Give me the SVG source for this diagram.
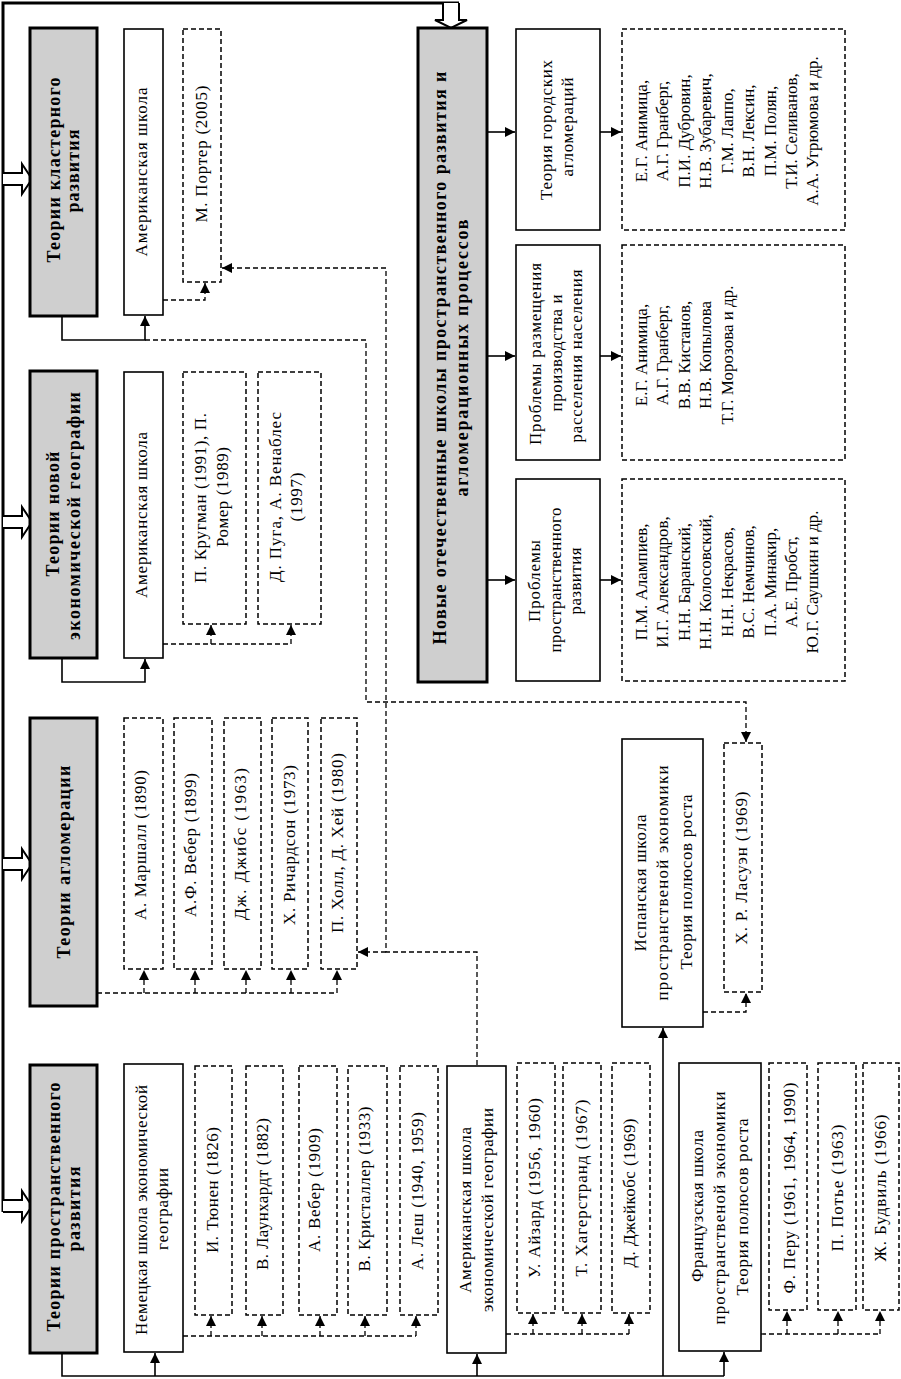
<svg xmlns="http://www.w3.org/2000/svg" width="901" height="1379" viewBox="0 0 901 1379">
<style>
.gray{fill:#cfcfcf;stroke:#000;stroke-width:3}
.box{fill:#fff;stroke:#000;stroke-width:1.6}
.dbox{fill:#fff;stroke:#000;stroke-width:1.5;stroke-dasharray:5 3}
.ln{fill:none;stroke:#000;stroke-width:1.6}
.dl{fill:none;stroke:#000;stroke-width:1.3;stroke-dasharray:5 3}
.frame{fill:none;stroke:#000;stroke-width:3}
.harrow{fill:#fff;stroke:#000;stroke-width:2}
.t{font-family:"Liberation Serif","Times New Roman",serif;font-size:17px;text-anchor:middle;fill:#000}
.tb{font-family:"Liberation Serif","Times New Roman",serif;font-size:18px;font-weight:bold;text-anchor:middle;fill:#000}
</style>
<defs>
<marker id="ah" markerUnits="userSpaceOnUse" markerWidth="10" markerHeight="10" refX="10" refY="5" orient="auto">
<path d="M0,0 L10,5 L0,10 z" fill="#000"/>
</marker>
</defs>

<g id="frame">
<path class="frame" d="M3,1212 V3 H459"/>
<path class="harrow" d="M3,173 H22 V164 L32,179 L22,194 V185 H3"/>
<path class="harrow" d="M3,516 H22 V507 L32,522 L22,537 V528 H3"/>
<path class="harrow" d="M3,858 H22 V849 L32,864 L22,879 V870 H3"/>
<path class="harrow" d="M3,1200 H22 V1191 L32,1206 L22,1221 V1212 H3"/>
<path class="harrow" d="M443,3 V20 H435 L451,28 L467,20 H459 V3"/>
</g>

<g id="connectors">
<path class="ln" d="M62,316 V340 H145 V316" marker-end="url(#ah)"/>
<path class="ln" d="M62,658 V682 H145 V659" marker-end="url(#ah)"/>
<path class="ln" d="M62,1353 V1376 H724"/>
<path class="ln" d="M155,1376 V1353" marker-end="url(#ah)"/>
<path class="ln" d="M477,1376 V1354" marker-end="url(#ah)"/>
<path class="ln" d="M724,1376 V1352" marker-end="url(#ah)"/>
<path class="ln" d="M663,1376 V1028" marker-end="url(#ah)"/>
<path class="ln" d="M487,132 H515" marker-end="url(#ah)"/>
<path class="ln" d="M600,132 H621" marker-end="url(#ah)"/>
<path class="ln" d="M487,356 H515" marker-end="url(#ah)"/>
<path class="ln" d="M600,356 H621" marker-end="url(#ah)"/>
<path class="ln" d="M487,580 H515" marker-end="url(#ah)"/>
<path class="ln" d="M600,580 H621" marker-end="url(#ah)"/>

<path class="dl" d="M145,340 H366 V702 H746 V742" marker-end="url(#ah)"/>
<path class="dl" d="M163,300 H205 V283" marker-end="url(#ah)"/>
<path class="dl" d="M163,644 H291"/>
<path class="dl" d="M211,644 V625" marker-end="url(#ah)"/>
<path class="dl" d="M291,644 V625" marker-end="url(#ah)"/>
<path class="dl" d="M97,993 H337"/>
<path class="dl" d="M144,993 V970" marker-end="url(#ah)"/>
<path class="dl" d="M195,993 V970" marker-end="url(#ah)"/>
<path class="dl" d="M246,993 V970" marker-end="url(#ah)"/>
<path class="dl" d="M291,993 V970" marker-end="url(#ah)"/>
<path class="dl" d="M337,993 V970" marker-end="url(#ah)"/>
<path class="dl" d="M477,1065 V952 H386 V268 H222" marker-end="url(#ah)"/>
<path class="dl" d="M386,952 H358" marker-end="url(#ah)"/>
<path class="dl" d="M183,1336 H416"/>
<path class="dl" d="M211,1336 V1316" marker-end="url(#ah)"/>
<path class="dl" d="M262,1336 V1316" marker-end="url(#ah)"/>
<path class="dl" d="M320,1336 V1316" marker-end="url(#ah)"/>
<path class="dl" d="M365,1336 V1316" marker-end="url(#ah)"/>
<path class="dl" d="M416,1336 V1316" marker-end="url(#ah)"/>
<path class="dl" d="M506,1334 H629"/>
<path class="dl" d="M533,1334 V1314" marker-end="url(#ah)"/>
<path class="dl" d="M582,1334 V1314" marker-end="url(#ah)"/>
<path class="dl" d="M629,1334 V1314" marker-end="url(#ah)"/>
<path class="dl" d="M761,1334 H880"/>
<path class="dl" d="M787,1334 V1311" marker-end="url(#ah)"/>
<path class="dl" d="M838,1334 V1311" marker-end="url(#ah)"/>
<path class="dl" d="M880,1334 V1311" marker-end="url(#ah)"/>
<path class="dl" d="M703,1012 H746 V993" marker-end="url(#ah)"/>
</g>

<!-- Cluster -->
<g id="n-cluster">
<rect class="gray" x="30" y="28" width="67" height="288"/>
<text class="tb" transform="translate(60,170) rotate(-90)" textLength="185">Теории кластерного</text>
<text class="tb" transform="translate(79,171) rotate(-90)" textLength="83">развития</text>
</g>
<g id="n-cluster-am">
<rect class="box" x="124" y="29" width="39" height="286"/>
<text class="t" transform="translate(147,172) rotate(-90)" textLength="169">Американская школа</text>
</g>
<g id="n-porter">
<rect class="dbox" x="183" y="29" width="38" height="253"/>
<text class="t" transform="translate(207,154) rotate(-90)" textLength="137">М. Портер (2005)</text>
</g>

<!-- NEG -->
<g id="n-neg">
<rect class="gray" x="30" y="371" width="67" height="287"/>
<text class="tb" transform="translate(59,514) rotate(-90)" textLength="125">Теории новой</text>
<text class="tb" transform="translate(80,516) rotate(-90)" textLength="248">экономической географии</text>
</g>
<g id="n-neg-am">
<rect class="box" x="124" y="372" width="39" height="286"/>
<text class="t" transform="translate(147,515) rotate(-90)" textLength="166">Американская школа</text>
</g>
<g id="n-krugman">
<rect class="dbox" x="183" y="372" width="63" height="252"/>
<text class="t" transform="translate(206,498) rotate(-90)" textLength="170">П. Кругман (1991), П.</text>
<text class="t" transform="translate(228,497) rotate(-90)" textLength="100">Ромер (1989)</text>
</g>
<g id="n-puga">
<rect class="dbox" x="258" y="372" width="63" height="252"/>
<text class="t" transform="translate(281,497) rotate(-90)" textLength="170">Д. Пуга, А. Венаблес</text>
<text class="t" transform="translate(302,497) rotate(-90)" textLength="49">(1997)</text>
</g>

<!-- Agglomeration -->
<g id="n-aggl">
<rect class="gray" x="30" y="718" width="67" height="288"/>
<text class="tb" transform="translate(70,862) rotate(-90)" textLength="193">Теории агломерации</text>
</g>
<g id="n-marshall">
<rect class="dbox" x="124" y="718" width="39" height="251"/>
<text class="t" transform="translate(146,845) rotate(-90)" textLength="150">А. Маршалл (1890)</text>
</g>
<g id="n-weber1">
<rect class="dbox" x="174" y="718" width="38" height="251"/>
<text class="t" transform="translate(196,845) rotate(-90)" textLength="144">А.Ф. Вебер (1899)</text>
</g>
<g id="n-jibs">
<rect class="dbox" x="224" y="718" width="37" height="251"/>
<text class="t" transform="translate(246,844) rotate(-90)" textLength="152">Дж. Джибс (1963)</text>
</g>
<g id="n-richardson">
<rect class="dbox" x="272" y="718" width="36" height="251"/>
<text class="t" transform="translate(295,845) rotate(-90)" textLength="160">Х. Ричардсон (1973)</text>
</g>
<g id="n-hall">
<rect class="dbox" x="321" y="718" width="36" height="251"/>
<text class="t" transform="translate(343,843) rotate(-90)" textLength="180">П. Холл, Д. Хей (1980)</text>
</g>

<!-- Spatial -->
<g id="n-spatial">
<rect class="gray" x="30" y="1065" width="67" height="288"/>
<text class="tb" transform="translate(60,1207) rotate(-90)" textLength="249">Теории пространственного</text>
<text class="tb" transform="translate(80,1209) rotate(-90)" textLength="85">развития</text>
</g>
<g id="n-german">
<rect class="box" x="124" y="1064" width="59" height="288"/>
<text class="t" transform="translate(147,1210) rotate(-90)" textLength="250">Немецкая школа экономической</text>
<text class="t" transform="translate(168,1209) rotate(-90)" textLength="82">географии</text>
</g>
<g id="n-thunen">
<rect class="dbox" x="195" y="1066" width="37" height="249"/>
<text class="t" transform="translate(218,1190) rotate(-90)" textLength="126">И. Тюнен (1826)</text>
</g>
<g id="n-launhardt">
<rect class="dbox" x="246" y="1066" width="37" height="249"/>
<text class="t" transform="translate(268,1194) rotate(-90)" textLength="152">В. Лаунхардт (1882)</text>
</g>
<g id="n-weber2">
<rect class="dbox" x="299" y="1066" width="38" height="249"/>
<text class="t" transform="translate(320,1190) rotate(-90)" textLength="124">А. Вебер (1909)</text>
</g>
<g id="n-christaller">
<rect class="dbox" x="348" y="1066" width="39" height="249"/>
<text class="t" transform="translate(370,1189) rotate(-90)" textLength="165">В. Кристаллер (1933)</text>
</g>
<g id="n-losch">
<rect class="dbox" x="400" y="1066" width="38" height="249"/>
<text class="t" transform="translate(423,1191) rotate(-90)" textLength="158">А. Леш (1940, 1959)</text>
</g>
<g id="n-american">
<rect class="box" x="447" y="1066" width="59" height="287"/>
<text class="t" transform="translate(471,1210) rotate(-90)" textLength="166">Американская школа</text>
<text class="t" transform="translate(493,1210) rotate(-90)" textLength="204">экономической географии</text>
</g>
<g id="n-isard">
<rect class="dbox" x="517" y="1063" width="38" height="250"/>
<text class="t" transform="translate(540,1188) rotate(-90)" textLength="180">У. Айзард (1956, 1960)</text>
</g>
<g id="n-hagerstrand">
<rect class="dbox" x="563" y="1063" width="38" height="250"/>
<text class="t" transform="translate(587,1188) rotate(-90)" textLength="177">Т. Хагерстранд (1967)</text>
</g>
<g id="n-jacobs">
<rect class="dbox" x="612" y="1063" width="38" height="250"/>
<text class="t" transform="translate(635,1193) rotate(-90)" textLength="149">Д. Джейкобс (1969)</text>
</g>
<g id="n-french">
<rect class="box" x="679" y="1063" width="82" height="288"/>
<text class="t" transform="translate(703,1206) rotate(-90)" textLength="152">Французская школа</text>
<text class="t" transform="translate(725,1208) rotate(-90)" textLength="233">пространственой экономики</text>
<text class="t" transform="translate(748,1207) rotate(-90)" textLength="177">Теория полюсов роста</text>
</g>
<g id="n-perroux">
<rect class="dbox" x="769" y="1063" width="38" height="247"/>
<text class="t" transform="translate(795,1188) rotate(-90)" textLength="211">Ф. Перу (1961, 1964, 1990)</text>
</g>
<g id="n-potier">
<rect class="dbox" x="818" y="1063" width="38" height="247"/>
<text class="t" transform="translate(843,1188) rotate(-90)" textLength="127">П. Потье (1963)</text>
</g>
<g id="n-boudeville">
<rect class="dbox" x="863" y="1063" width="36" height="247"/>
<text class="t" transform="translate(886,1188) rotate(-90)" textLength="147">Ж. Будвиль (1966)</text>
</g>

<!-- Spanish -->
<g id="n-spanish">
<rect class="box" x="622" y="739" width="81" height="288"/>
<text class="t" transform="translate(646,883) rotate(-90)" textLength="137">Испанская школа</text>
<text class="t" transform="translate(668,883) rotate(-90)" textLength="235">пространственой экономики</text>
<text class="t" transform="translate(692,882) rotate(-90)" textLength="175">Теория полюсов роста</text>
</g>
<g id="n-lasuen">
<rect class="dbox" x="724" y="743" width="38" height="249"/>
<text class="t" transform="translate(747,868) rotate(-90)" textLength="153">Х. Р. Ласуэн (1969)</text>
</g>

<!-- New domestic schools -->
<g id="n-new">
<rect class="gray" x="418" y="28" width="69" height="654"/>
<text class="tb" transform="translate(446,358) rotate(-90)" textLength="573">Новые отечественные школы пространственного развития и</text>
<text class="tb" transform="translate(468,358) rotate(-90)" textLength="277">агломерационных процессов</text>
</g>
<g id="n-gorod">
<rect class="box" x="516" y="29" width="84" height="201"/>
<text class="t" transform="translate(552,130) rotate(-90)" textLength="140">Теория городских</text>
<text class="t" transform="translate(573,127) rotate(-90)" textLength="99">агломераций</text>
</g>
<g id="n-gorod-list">
<rect class="dbox" x="622" y="29" width="223" height="201"/>
<text class="t" transform="translate(647,131) rotate(-90)">Е.Г. Анимица,</text>
<text class="t" transform="translate(668,131) rotate(-90)">А.Г. Гранберг,</text>
<text class="t" transform="translate(690,131) rotate(-90)">П.И. Дубровин,</text>
<text class="t" transform="translate(711,131) rotate(-90)">Н.В. Зубаревич,</text>
<text class="t" transform="translate(733,131) rotate(-90)">Г.М. Лаппо,</text>
<text class="t" transform="translate(754,131) rotate(-90)">В.Н. Лексин,</text>
<text class="t" transform="translate(776,131) rotate(-90)">П.М. Полян,</text>
<text class="t" transform="translate(797,131) rotate(-90)">Т.И. Селиванов,</text>
<text class="t" transform="translate(818,131) rotate(-90)">А.А. Угрюмова и др.</text>
</g>
<g id="n-razm">
<rect class="box" x="516" y="245" width="84" height="215"/>
<text class="t" transform="translate(541,354) rotate(-90)" textLength="182">Проблемы размещения</text>
<text class="t" transform="translate(562,353) rotate(-90)" textLength="117">производства и</text>
<text class="t" transform="translate(582,356) rotate(-90)" textLength="173">расселения населения</text>
</g>
<g id="n-razm-list">
<rect class="dbox" x="622" y="245" width="223" height="215"/>
<text class="t" transform="translate(647,355) rotate(-90)">Е.Г. Анимица,</text>
<text class="t" transform="translate(668,355) rotate(-90)">А.Г. Гранберг,</text>
<text class="t" transform="translate(690,355) rotate(-90)">В.В. Кистанов,</text>
<text class="t" transform="translate(711,355) rotate(-90)">Н.В. Копылова</text>
<text class="t" transform="translate(733,355) rotate(-90)">Т.Г. Морозова и др.</text>
</g>
<g id="n-prostr">
<rect class="box" x="516" y="479" width="84" height="202"/>
<text class="t" transform="translate(540,581) rotate(-90)" textLength="82">Проблемы</text>
<text class="t" transform="translate(561,580) rotate(-90)" textLength="145">пространственного</text>
<text class="t" transform="translate(581,581) rotate(-90)" textLength="67">развития</text>
</g>
<g id="n-prostr-list">
<rect class="dbox" x="622" y="479" width="223" height="202"/>
<text class="t" transform="translate(647,582) rotate(-90)">П.М. Алампиев,</text>
<text class="t" transform="translate(668,582) rotate(-90)">И.Г. Александров,</text>
<text class="t" transform="translate(690,582) rotate(-90)">Н.Н. Баранский,</text>
<text class="t" transform="translate(711,582) rotate(-90)">Н.Н. Колосовский,</text>
<text class="t" transform="translate(733,582) rotate(-90)">Н.Н. Некрасов,</text>
<text class="t" transform="translate(754,582) rotate(-90)">В.С. Немчинов,</text>
<text class="t" transform="translate(776,582) rotate(-90)">П.А. Минакир,</text>
<text class="t" transform="translate(797,582) rotate(-90)">А.Е. Пробст,</text>
<text class="t" transform="translate(818,582) rotate(-90)">Ю.Г. Саушкин и др.</text>
</g>
</svg>
